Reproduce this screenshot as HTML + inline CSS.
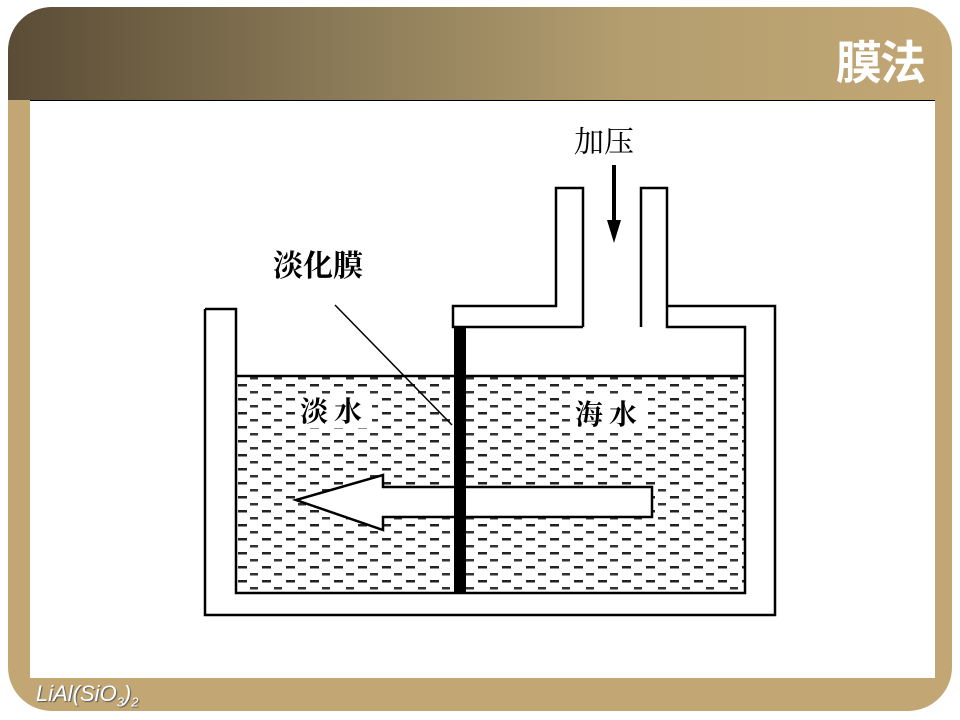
<!DOCTYPE html>
<html><head><meta charset="utf-8"><style>
html,body{margin:0;padding:0;background:#fff;}
#f{position:absolute;left:8px;top:7px;width:944px;height:704px;border-radius:44px;background:#c2a774;overflow:hidden;}
#h{position:absolute;left:0;top:0;width:944px;height:93px;background:linear-gradient(90deg,#5a4c36 0%,#8a7a57 35%,#b39d6f 65%,#c2a774 100%);}
#t{position:absolute;right:28px;top:20px;font:bold 46px "Noto Sans CJK SC",sans-serif;color:#fff;letter-spacing:-2px;}
#p{position:absolute;left:22px;top:93px;width:905px;height:577px;background:#fff;border-top:1.5px solid #000;}
#l{position:absolute;left:28px;top:674px;font:italic 22px "Liberation Sans",sans-serif;color:#fff;text-shadow:1px 1px 1px #555;}
</style></head><body>
<div id="f"><div id="h"></div><div id="t">膜法</div><div id="p"></div><div id="l">LiAl(SiO<sub style="font-size:13px">3</sub>)<sub style="font-size:13px">2</sub></div></div>
<svg style="position:absolute;left:0;top:0" width="960" height="720">
<defs><pattern id="d" width="24" height="14" patternUnits="userSpaceOnUse" x="236" y="384">
<rect x="2" y="0" width="9" height="2.5" fill="#222"/><rect x="14" y="7" width="8" height="2.5" fill="#333"/></pattern></defs>
<rect x="236" y="376" width="509" height="217" fill="url(#d)"/>
<rect x="296" y="394" width="76" height="34" fill="#fff"/>
<rect x="572" y="396" width="76" height="34" fill="#fff"/>
<g fill="none" stroke="#000" stroke-width="2.5">
<path d="M205 309 H236 V593 H745 V327 H667 V188 H641 V327 M583 327 V188 H556 V306 H453 V327 H583 M205 309 V615 H775 V306 H667"/>
<line x1="236" y1="376" x2="745" y2="376"/>
</g>
<path d="M383 475 L296 500 L383 530 V517 H652 V487 H383 Z" fill="#fff" stroke="#000" stroke-width="2.5"/>
<rect x="454" y="327" width="12" height="266" fill="#000"/>
<line x1="335" y1="305" x2="452" y2="425" stroke="#000" stroke-width="1.5"/>
<line x1="614" y1="165" x2="614" y2="225" stroke="#000" stroke-width="4"/>
<path d="M607 220 L621 220 L614 243 Z" fill="#000"/>
<g font-family="Noto Serif CJK SC,serif" fill="#000">
<text x="574" y="152" font-size="30">加压</text>
<text x="273" y="276" font-size="30" font-weight="bold">淡化膜</text>
<text x="300" y="421" font-size="28" font-weight="bold" letter-spacing="6">淡水</text>
<text x="575" y="424" font-size="28" font-weight="bold" letter-spacing="6">海水</text>
</g>
</svg>
</body></html>
